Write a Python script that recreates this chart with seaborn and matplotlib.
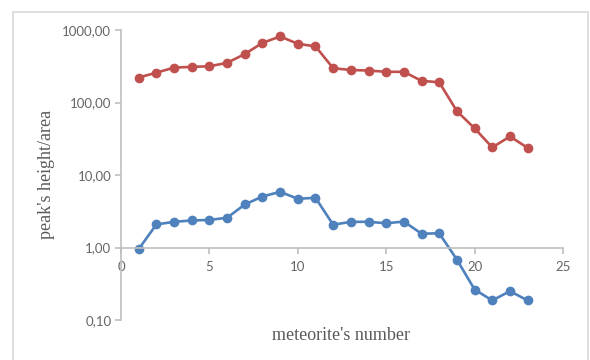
import numpy as np
import pandas as pd
import matplotlib.pyplot as plt
import matplotlib.ticker as mticker
from matplotlib.patches import Rectangle
import seaborn as sns

# meteorite numbers and the two measured series
meteorite = list(range(1, 24))
peak_red = [221, 258, 303, 310, 316, 352, 466, 664, 815, 645, 595, 297,
            281, 276, 265, 265, 199, 190, 76, 44, 24, 34, 23.7]
peak_blue = [0.95, 2.08, 2.26, 2.36, 2.40, 2.57, 3.92, 5.05, 5.86, 4.7, 4.85, 2.06,
             2.26, 2.26, 2.16, 2.28, 1.55, 1.57, 0.68, 0.263, 0.186, 0.25, 0.186]
y_ticks = [0.1, 1, 10, 100, 1000]
x_ticks = [0, 5, 10, 15, 20, 25]

sns.set_theme(style="white")
plt.rcParams['font.family'] = ['Lato', 'DejaVu Sans']

df = pd.DataFrame({'n': meteorite, 'red': peak_red, 'blue': peak_blue})

fig = plt.figure(figsize=(5.9, 3.6), dpi=100)
ax = fig.add_axes([121 / 590, 1 - 320 / 360, (563 - 121) / 590, (320 - 30) / 360])

sns.lineplot(data=df, x='n', y='red', ax=ax, color='#C0504D', marker='o',
             markersize=7, markeredgewidth=0, linewidth=1.9)
sns.lineplot(data=df, x='n', y='blue', ax=ax, color='#4F81BD', marker='o',
             markersize=7, markeredgewidth=0, linewidth=1.9)

ax.set_yscale('log')
ax.set_ylim(0.1, 1000)
ax.set_xlim(0, 25)
ax.set_yticks(y_ticks)
ax.yaxis.set_minor_locator(mticker.NullLocator())
ax.yaxis.set_major_formatter(mticker.FuncFormatter(lambda v, p: f"{v:.2f}".replace('.', ',')))
ax.set_xticks(x_ticks)

ax.spines['bottom'].set_position(('data', 1))
ax.spines['top'].set_visible(False)
ax.spines['right'].set_visible(False)
for s in ['left', 'bottom']:
    ax.spines[s].set_color('#BFBFBF')
    ax.spines[s].set_linewidth(1.2)
ax.tick_params(axis='both', which='major', direction='out', length=4, width=1.2,
               color='#BFBFBF', labelcolor='#666666', labelsize=9.5, pad=3,
               left=True, bottom=True)
ax.tick_params(axis='x', pad=6)

ax.set_xlabel('')
ax.set_ylabel('')
fig.text(341 / 590, 1 - 335 / 360, "meteorite's number", ha='center', va='center',
         family='Liberation Serif', fontsize=13, color='#595959')
fig.text(47 / 590, 1 - 174 / 360, "peak's height/area", ha='center', va='center',
         rotation=90, family='Liberation Serif', fontsize=13, color='#595959')

# outer chart frame
fig.patches.append(Rectangle((13 / 590, -0.05), (588 - 13) / 590, 1.05 - 12 / 360,
                             transform=fig.transFigure, fill=False,
                             edgecolor='#D9D9D9', linewidth=1.2))

fig.savefig('out.png', dpi=100)
